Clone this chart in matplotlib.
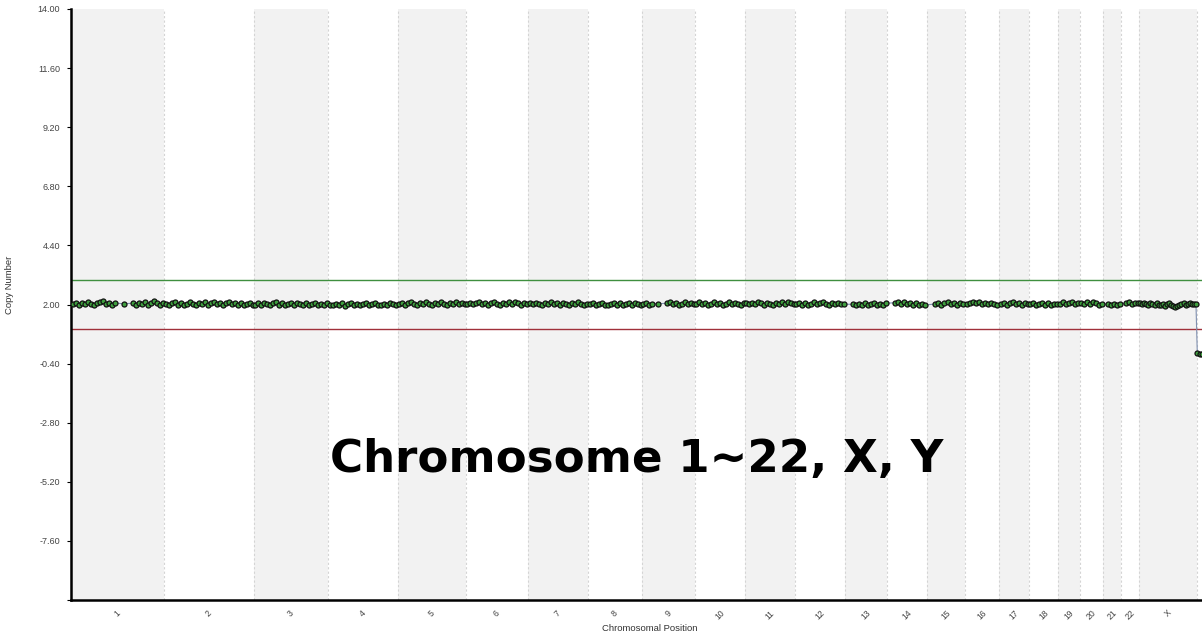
import numpy as np
import matplotlib
matplotlib.use("Agg")
import matplotlib.pyplot as plt

nan = np.nan

# chromosome names and relative widths (probe coverage)
chroms = ["1", "2", "3", "4", "5", "6", "7", "8", "9", "10", "11", "12",
          "13", "14", "15", "16", "17", "18", "19", "20", "21", "22", "X", "Y"]
widths = [93, 90, 74, 70, 68, 62, 60, 54, 53, 50, 50, 50,
          42, 40, 38, 34, 30, 29, 22, 23, 18, 18, 58, 5]

# copy number values per chromosome (nan = no probes)
cn = {
    "1": [2.03, 2.08, 2.00, 2.06, 2.02, 2.09, 2.04, 1.99, 2.07, 2.11, 2.13, 2.01, 2.08, 1.99, 2.06,
          nan, nan, 2.03, nan, nan, 2.05, 1.98, 2.07, 2.01, 2.10, 2.00, 2.05, 2.13, 2.07, 1.99, 2.06],
    "2": [2.02, 1.98, 2.06, 2.09, 2.00, 2.07, 1.98, 2.03, 2.10, 2.04, 1.99, 2.07, 2.02, 2.09, 1.99,
          2.05, 2.12, 2.01, 2.07, 1.98, 2.05, 2.09, 2.02, 2.07, 1.99, 2.05, 1.97, 2.02, 2.07, 2.00],
    "3": [1.99, 2.05, 2.00, 2.07, 2.02, 1.97, 2.05, 2.09, 2.00, 2.06, 1.98, 2.03, 2.08, 1.99, 2.05,
          2.02, 1.98, 2.06, 2.00, 2.03, 2.07, 1.98, 2.03, 2.00, 2.05],
    "4": [2.00, 1.96, 2.03, 1.98, 2.06, 1.95, 2.01, 2.07, 1.98, 2.04, 1.96, 2.01, 2.06, 1.98, 2.03,
          2.08, 2.00, 1.96, 2.04, 1.98, 2.06, 2.01, 1.97],
    "5": [2.02, 2.07, 2.00, 2.05, 2.09, 2.02, 1.98, 2.07, 2.01, 2.10, 2.04, 1.99, 2.07, 2.01, 2.09,
          2.03, 1.99, 2.07, 2.01, 2.09, 2.03, 2.06, 2.01],
    "6": [2.04, 2.08, 2.01, 2.06, 2.12, 2.03, 2.08, 2.00, 2.06, 2.10, 2.03, 1.99, 2.07, 2.01, 2.09,
          2.04, 2.10, 2.05, 2.00, 2.08, 2.03],
    "7": [2.06, 2.01, 2.08, 2.03, 1.99, 2.07, 2.01, 2.11, 2.04, 2.08, 2.00, 2.06, 2.03, 1.98, 2.07,
          2.01, 2.09, 2.03, 1.98, 2.02],
    "8": [2.01, 2.05, 1.98, 2.03, 2.07, 2.00, 1.96, 2.03, 2.07, 1.99, 2.05, 1.97, 2.02, 2.07, 1.99,
          2.05, 2.02, 1.98],
    "9": [2.02, 2.07, 1.99, 2.04, nan, 2.03, nan, nan, 2.05, 2.09, 2.01, 2.07, 1.99, 2.04, 2.09,
          2.01, 2.06, 2.03],
    "10": [2.04, 2.09, 2.01, 2.06, 1.99, 2.04, 2.10, 2.01, 2.07, 1.99, 2.04, 2.09, 2.01, 2.06, 2.03,
           1.99, 2.06],
    "11": [2.06, 2.01, 2.08, 2.03, 2.11, 2.05, 2.00, 2.08, 2.03, 1.99, 2.07, 2.01, 2.09, 2.03, 2.11,
           2.05, 2.01],
    "12": [2.04, 2.08, 2.00, 2.06, 1.99, 2.04, 2.09, 2.01, 2.06, 2.10, 2.03, 1.99, 2.07, 2.01, 2.08,
           2.03, 2.01],
    "13": [nan, nan, 2.01, 1.96, 2.04, 1.99, 2.06, 1.97, 2.02, 2.07, 1.98, 2.04, 1.97, 2.05],
    "14": [nan, nan, 2.07, 2.12, 2.04, 2.09, 2.02, 2.07, 2.00, 2.05, 1.99, 2.04, 1.98],
    "15": [nan, nan, 2.02, 2.07, 1.99, 2.05, 2.09, 2.01, 2.07, 1.99, 2.05, 2.02],
    "16": [2.04, 2.08, 2.12, 2.05, 2.10, 2.03, 2.08, 2.01, 2.06, 2.03, 1.99],
    "17": [2.02, 2.07, 1.99, 2.05, 2.09, 2.01, 2.07, 1.99, 2.05, 2.02],
    "18": [2.01, 2.05, 1.97, 2.03, 2.08, 1.99, 2.05, 1.97, 2.03, 2.01],
    "19": [2.04, 2.09, 2.01, 2.07, 2.11, 2.03, 2.06],
    "20": [2.06, 2.01, 2.09, 2.03, 2.11, 2.05, 2.00, 2.04],
    "21": [nan, 2.01, 1.97, 2.04, 1.98, 2.02],
    "22": [nan, 2.06, 2.10, 2.03, 2.08, 2.05],
    "X": [2.06, 2.01, 2.08, 2.03, 1.99, 2.06, 2.01, 1.98, 2.05, 2.00, 1.96, 2.03, 1.95, 2.01, 2.05,
          1.98, 1.92, 1.88, 1.94, 1.99, 2.02, 2.06, 1.99, 2.04, 2.07, 2.01, 2.04, 2.02],
    "Y": [0.02, 0.00, -0.01],
}

upper_threshold = 3.0
lower_threshold = 1.0
yticks = [14.0, 11.6, 9.2, 6.8, 4.4, 2.0, -0.4, -2.8, -5.2, -7.6, -10.0]

# genome coordinates
edges = np.concatenate([[0], np.cumsum(widths)])
centers = (edges[:-1] + edges[1:]) / 2

xs, ys = [], []
for i, c in enumerate(chroms):
    v = cn[c]
    pad = widths[i] / (2 * len(v))
    x = np.linspace(edges[i] + pad, edges[i + 1] - pad, len(v))
    if c == "Y":
        x = np.linspace(edges[i] + 0.3, edges[i + 1], len(v))
    xs.append(x)
    ys.append(np.array(v, dtype=float))
xs = np.concatenate(xs)
ys = np.concatenate(ys)
ok = ~np.isnan(ys)

fig = plt.figure(figsize=(12.02, 6.34), dpi=100)
ax = fig.add_axes([71 / 1202, 1 - 600 / 634, 1 - 71 / 1202, (600 - 9) / 634])

for i in range(len(chroms)):
    if i % 2 == 0:
        ax.axvspan(edges[i], edges[i + 1], color="#f2f2f2", lw=0, zorder=0)
for e in edges[1:-1]:
    ax.axvline(e, color="#d4d4d4", lw=0.8, ls=(0, (2, 2)), zorder=1)

ax.axhline(upper_threshold, color="#3f8f3f", lw=1.0, zorder=2)
ax.axhline(lower_threshold, color="#a0303a", lw=1.0, zorder=2)

ax.plot(xs[ok], ys[ok], color="#8090b0", lw=0.8, zorder=3)
ax.plot(xs[ok], ys[ok], ls="none", marker="o", ms=3.6, mfc="#3f9f3f", mec="#111111",
        mew=0.9, zorder=4)

ax.set_xlim(edges[0], edges[-1])
ax.set_ylim(-10, 14)
ax.set_yticks(yticks)
ax.set_yticklabels(["%.2f" % t if t != -10.0 else "" for t in yticks])
ax.set_xticks(centers)
ax.set_xticklabels([c if c != "Y" else "" for c in chroms], rotation=45, ha="center", va="top")
ax.tick_params(axis="x", length=0, labelsize=6.2, labelcolor="#444444", pad=6)
ax.tick_params(axis="y", length=3, width=0.8, labelsize=6.5, labelcolor="#444444", pad=5)
for lab in ax.get_xticklabels() + ax.get_yticklabels():
    lab.set_fontfamily("Liberation Sans")

for s in ["top", "right"]:
    ax.spines[s].set_visible(False)
ax.spines["left"].set_linewidth(1.8)
ax.spines["bottom"].set_linewidth(1.8)

ax.set_ylabel("Copy Number", fontsize=6.8, color="#333333", family="Liberation Sans")
ax.yaxis.set_label_coords(-0.0504, 0.534)
ax.set_xlabel("Chromosomal Position", fontsize=6.8, color="#333333", family="Liberation Sans")
ax.xaxis.set_label_coords(0.512, -0.04)

ax.text(0.5, 0.237, "Chromosome 1~22, X, Y", transform=ax.transAxes, fontsize=32.5,
        fontweight="bold", family="DejaVu Sans", ha="center", va="center", color="black")

fig.savefig("out.png", dpi=100)
